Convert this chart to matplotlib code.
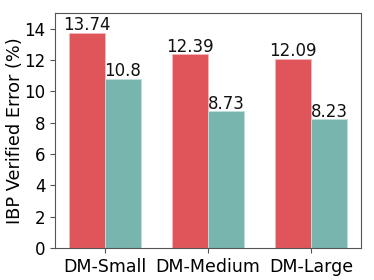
import matplotlib
matplotlib.use("Agg")
import matplotlib.pyplot as plt
import numpy as np

categories = ["DM-Small", "DM-Medium", "DM-Large"]
series_a = [13.74, 12.39, 12.09]
series_b = [10.8, 8.73, 8.23]
labels_a = ["13.74", "12.39", "12.09"]
labels_b = ["10.8", "8.73", "8.23"]

fig = plt.figure(figsize=(3.74, 2.8), dpi=100)
ax = fig.add_axes([0.147, 0.115, 0.818, 0.838])
x = np.arange(len(categories))
w = 0.35
b1 = ax.bar(x - w/2, series_a, w, color="#E0555A", edgecolor="#F2B8BA", linewidth=0.6)
b2 = ax.bar(x + w/2, series_b, w, color="#78B5AF", edgecolor="#BFE0DC", linewidth=0.6)
for rect, t in zip(b1, labels_a):
    ax.text(rect.get_x() + rect.get_width()/2, rect.get_height() - 0.1, t, ha="center", va="bottom", fontsize=12, color="#111111")
for rect, t in zip(b2, labels_b):
    ax.text(rect.get_x() + rect.get_width()/2, rect.get_height() - 0.1, t, ha="center", va="bottom", fontsize=12, color="#111111")
ax.set_xticks(x)
ax.set_xticklabels(categories, fontsize=12.5)
ax.set_ylim(0, 15)
ax.set_yticks([0, 2, 4, 6, 8, 10, 12, 14])
ax.tick_params(axis="y", labelsize=12)
ax.set_ylabel("IBP Verified Error (%)", fontsize=12.8)
ax.yaxis.set_label_coords(-0.1, 0.5)
for s in ax.spines.values():
    s.set_color("#555555")
ax.tick_params(color="#555555", length=3.5)
fig.savefig("out.png", dpi=100)
